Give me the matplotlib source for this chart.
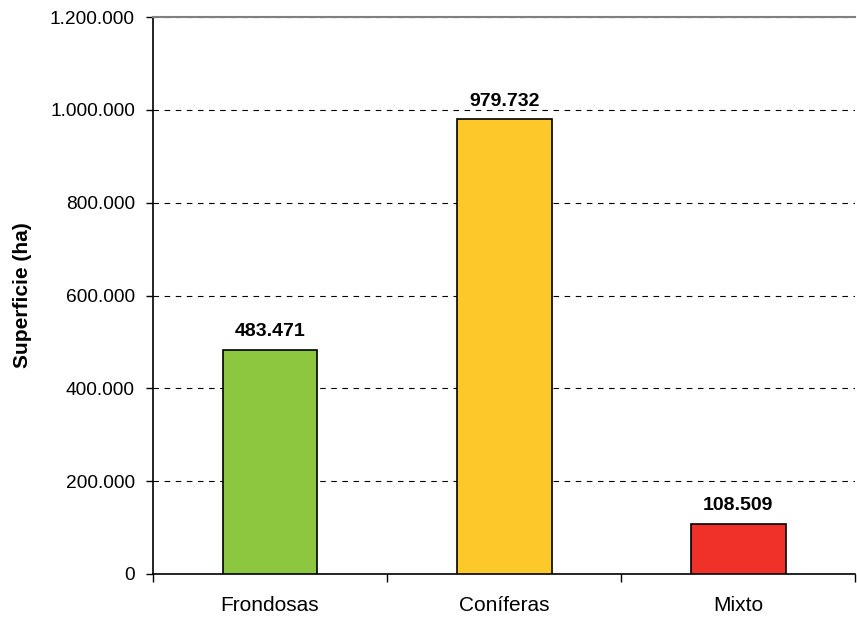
import matplotlib.pyplot as plt
import matplotlib.ticker as mticker
import numpy as np

plt.rcParams['font.family'] = ['Liberation Sans', 'DejaVu Sans']

categorias = ['Frondosas', 'Coníferas', 'Mixto']
superficie = [483471, 979732, 108509]
colores = ['#8dc63f', '#fdc82a', '#ef3129']


def miles(v, pos=None):
    """Formato con punto como separador de miles"""
    return f'{int(v):,}'.replace(',', '.')


fig = plt.figure(figsize=(8.57, 6.17), dpi=100)
ax = fig.add_axes([0.1785, 0.0697, 0.8195, 0.9027])

x = np.arange(len(categorias))
ax.bar(x, superficie, width=0.405, color=colores, edgecolor='black', linewidth=1.2, zorder=3)

for xi, v in zip(x, superficie):
    ax.text(xi, v + 20000, miles(v), ha='center', va='bottom',
            fontsize=14, fontweight='bold', zorder=4)

ax.set_xlim(-0.5, len(categorias) - 0.5)
ax.set_ylim(0, 1200000)
ax.yaxis.set_major_locator(mticker.MultipleLocator(200000))
ax.yaxis.set_major_formatter(mticker.FuncFormatter(miles))
ax.yaxis.grid(True, linestyle=(0, (5, 5)), color='black', linewidth=0.8, zorder=0)

ax.set_xticks(x)
ax.set_xticklabels(categorias, fontsize=15)
ax.tick_params(axis='x', length=0, pad=16)
ax.set_xticks(np.arange(-0.5, len(categorias)), minor=True)
ax.tick_params(axis='x', which='minor', length=6, width=1, direction='out')
ax.tick_params(axis='y', labelsize=13.8, length=5, width=1, direction='out', pad=8)

ax.set_ylabel('Superficie (ha)', fontsize=15, fontweight='bold', labelpad=13)

ax.spines['right'].set_visible(False)
ax.spines['top'].set_color('#808080')
ax.spines['top'].set_linewidth(1.5)
ax.spines['left'].set_linewidth(1.2)
ax.spines['bottom'].set_linewidth(1.2)

plt.savefig('out.png', dpi=100)
plt.close()
